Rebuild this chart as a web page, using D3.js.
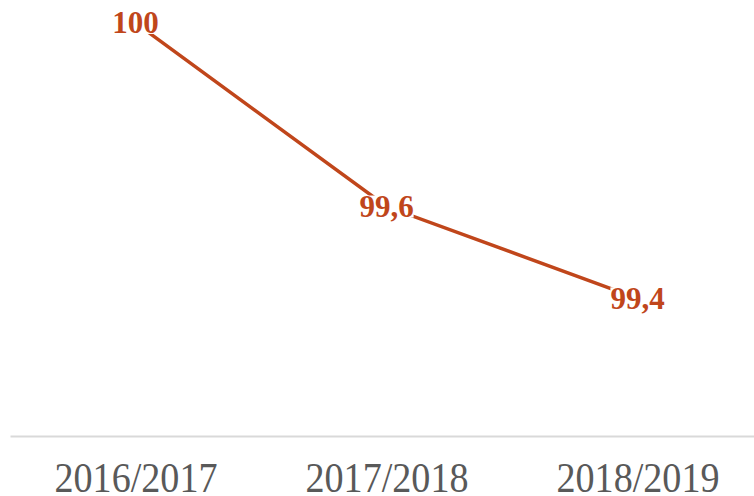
<!DOCTYPE html>
<html>
<head>
<meta charset="utf-8">
<script src="https://cdn.jsdelivr.net/npm/d3@7/dist/d3.min.js"></script>
<style>
  html, body { margin: 0; padding: 0; background: #ffffff; overflow: hidden; }
  svg { display: block; }
</style>
</head>
<body>
<div id="chart"></div>
<script>
// School years and the indicator value for each
const years = ["2016/2017", "2017/2018", "2018/2019"];
const values = [100, 99.6, 99.4];
const valueLabels = ["100", "99,6", "99,4"];

const width = 754, height = 496;
const lineColor = "#C0461B";

const svg = d3.select("#chart").append("svg")
  .attr("width", width)
  .attr("height", height);

const x = d3.scalePoint()
  .domain(years)
  .range([10, 763])
  .padding(0.5);

const y = d3.scaleLinear()
  .domain([99.1, 100.05])
  .range([436, 0]);

// Category axis along the bottom
const axis = svg.append("g")
  .attr("transform", `translate(0,${y(99.1)})`)
  .call(d3.axisBottom(x).tickSize(0).tickSizeOuter(0));

axis.select(".domain")
  .attr("stroke", "#d9d9d9")
  .attr("stroke-width", 2);

axis.selectAll(".tick text")
  .attr("y", 56)
  .attr("dy", 0)
  .attr("fill", "#595959")
  .style("font-family", "'Liberation Serif', 'DejaVu Serif', serif")
  .style("font-size", "42px")
  .attr("textLength", 163)
  .attr("lengthAdjust", "spacingAndGlyphs");

const points = years.map((yr, i) => ({ year: yr, value: values[i], label: valueLabels[i] }));

// Trend line
svg.append("path")
  .datum(points)
  .attr("fill", "none")
  .attr("stroke", lineColor)
  .attr("stroke-width", 3.5)
  .attr("d", d3.line().x(d => x(d.year)).y(d => y(d.value)));

// Value labels with a white backing so the line stops at the text
const labels = svg.append("g").selectAll("g")
  .data(points)
  .join("g")
  .attr("transform", d => `translate(${x(d.year)},${y(d.value)})`);

const texts = labels.append("text")
  .attr("text-anchor", "middle")
  .attr("y", 10.5)
  .attr("fill", lineColor)
  .style("font-family", "'Liberation Serif', 'DejaVu Serif', serif")
  .style("font-weight", "bold")
  .style("font-size", "31px")
  .text(d => d.label);

texts.each(function () {
  const bb = this.getBBox();
  d3.select(this.parentNode).insert("rect", "text")
    .attr("x", bb.x)
    .attr("y", -11)
    .attr("width", bb.width)
    .attr("height", 22)
    .attr("fill", "#ffffff");
});
</script>
</body>
</html>
